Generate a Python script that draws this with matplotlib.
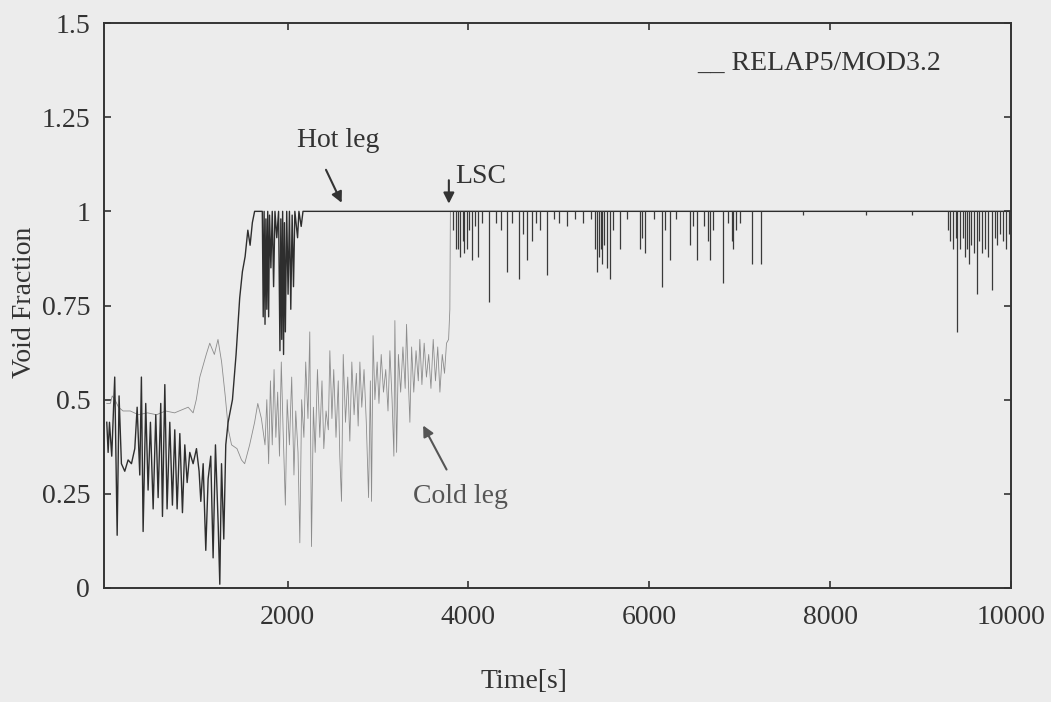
import matplotlib
matplotlib.use("Agg")
import matplotlib.pyplot as plt

plt.rcParams['font.family'] = ['Liberation Serif', 'DejaVu Serif']
plt.rcParams['font.size'] = 20

# Hot leg void fraction (time [s], value)
hot_t = [0, 15, 30, 55, 88, 115, 136, 162, 199, 236, 273, 310, 336, 365, 383, 402,
         431, 457, 483, 513, 542, 568, 597, 616, 642, 667, 697, 726, 752, 778, 808,
         837, 863, 889, 918, 955, 992, 1021, 1040, 1066, 1095, 1121, 1150, 1176,
         1202, 1232, 1250, 1269, 1294, 1316, 1342, 1390, 1430, 1470, 1500, 1530,
         1560, 1585, 1610, 1635, 1720,
         1730, 1740, 1750, 1760, 1770, 1780, 1790, 1800, 1815, 1830, 1845, 1860,
         1880, 1900, 1915, 1925, 1935, 1945, 1955, 1965, 1975, 1990, 2005, 2020,
         2035, 2050, 2065, 2080, 2110, 2125, 2150, 2170, 10000]
hot_v = [0.44, 0.36, 0.44, 0.35, 0.56, 0.14, 0.51, 0.33, 0.31, 0.34, 0.33, 0.37, 0.48,
         0.30, 0.56, 0.15, 0.49, 0.26, 0.44, 0.21, 0.46, 0.24, 0.49, 0.19, 0.54, 0.21,
         0.44, 0.22, 0.42, 0.21, 0.41, 0.20, 0.38, 0.28, 0.36, 0.33, 0.37, 0.31, 0.23,
         0.33, 0.10, 0.29, 0.35, 0.08, 0.38, 0.17, 0.01, 0.33, 0.13, 0.38, 0.44, 0.50,
         0.62, 0.77, 0.84, 0.88, 0.95, 0.91, 0.97, 1.0, 1.0,
         0.72, 1.0, 0.70, 0.98, 0.74, 1.0, 0.72, 0.99, 0.85, 1.0, 0.80, 1.0,
         0.93, 1.0, 0.63, 0.98, 0.66, 1.0, 0.62, 0.97, 0.68, 1.0, 0.78, 1.0,
         0.74, 0.99, 0.80, 1.0, 0.93, 1.0, 0.96, 1.0, 1.0]

# Cold leg void fraction (time [s], value)
cold_t = [0, 40, 60, 90, 130, 180, 260, 350, 450, 550, 650, 750, 850, 900, 955, 990,
          1029, 1100, 1139, 1190, 1230, 1270, 1310, 1345, 1380, 1440, 1490, 1525,
          1580, 1635, 1670, 1710, 1750,
          1770, 1790, 1810, 1830, 1850, 1870, 1890, 1910, 1930, 1950, 1975, 1995,
          2020, 2045, 2070, 2090, 2115, 2135, 2155, 2180, 2200, 2225, 2245, 2264,
          2285, 2305, 2330, 2356, 2380, 2400, 2425, 2450, 2467, 2490, 2510, 2535,
          2560, 2577, 2596, 2615, 2640, 2665, 2688, 2710, 2735, 2760, 2780, 2799,
          2820, 2845, 2870, 2895, 2915, 2928, 2945, 2965, 2990, 3010, 3035, 3060,
          3085, 3110, 3131, 3155, 3175, 3186, 3205, 3225, 3250, 3275, 3300, 3315,
          3335, 3352, 3371, 3395, 3420, 3445, 3462, 3485, 3510, 3535, 3560, 3585,
          3610, 3635, 3660, 3684, 3710, 3735, 3757, 3780, 3794, 3800, 10000]
cold_v = [0.49, 0.49, 0.51, 0.50, 0.48, 0.47, 0.47, 0.46, 0.465, 0.46, 0.47, 0.465,
          0.475, 0.48, 0.465, 0.50, 0.56, 0.62, 0.65, 0.62, 0.66, 0.60, 0.51, 0.42,
          0.38, 0.37, 0.34, 0.33, 0.38, 0.44, 0.49, 0.45, 0.38,
          0.50, 0.33, 0.55, 0.38, 0.58, 0.40, 0.52, 0.35, 0.60, 0.42, 0.22, 0.50,
          0.38, 0.56, 0.30, 0.47, 0.36, 0.12, 0.50, 0.40, 0.60, 0.45, 0.68, 0.11,
          0.48, 0.36, 0.58, 0.40, 0.55, 0.37, 0.47, 0.42, 0.63, 0.45, 0.58, 0.40,
          0.55, 0.35, 0.23, 0.62, 0.44, 0.56, 0.39, 0.60, 0.46, 0.57, 0.43, 0.60,
          0.48, 0.58, 0.44, 0.24, 0.55, 0.23, 0.67, 0.50, 0.60, 0.49, 0.62, 0.52,
          0.58, 0.47, 0.63, 0.50, 0.35, 0.71, 0.36, 0.62, 0.52, 0.64, 0.53, 0.70,
          0.55, 0.44, 0.64, 0.52, 0.63, 0.55, 0.66, 0.54, 0.65, 0.56, 0.62, 0.53,
          0.66, 0.55, 0.64, 0.52, 0.62, 0.57, 0.65, 0.66, 0.74, 1.0, 1.0]

# Dips below 1 after loop seal clearing (time [s], lowest value)
dip_t = [3830, 3860, 3886, 3910, 3935, 3955, 3979, 4005, 4034, 4070, 4108, 4150, 4229,
         4300, 4360, 4421, 4480, 4561, 4600, 4642, 4698, 4750, 4790, 4871, 4950, 5000,
         5085, 5180, 5269, 5350, 5400, 5417, 5440, 5460, 5480, 5500, 5528, 5564, 5600,
         5675, 5750, 5896, 5920, 5951, 6050, 6136, 6170, 6228, 6300, 6449, 6480, 6523,
         6600, 6650, 6670, 6700, 6811, 6870, 6910, 6928, 6960, 7000, 7131, 7231, 7700,
         8400, 8900, 9300, 9330, 9360, 9390, 9406, 9440, 9470, 9490, 9510, 9540, 9560,
         9590, 9620, 9650, 9680, 9712, 9740, 9786, 9820, 9850, 9878, 9910, 9940, 9975]
dip_v = [0.95, 0.90, 0.90, 0.88, 0.92, 0.89, 0.90, 0.95, 0.87, 0.96, 0.88, 0.97, 0.76,
         0.97, 0.95, 0.84, 0.97, 0.82, 0.94, 0.87, 0.92, 0.97, 0.95, 0.83, 0.98, 0.97,
         0.96, 0.98, 0.97, 0.98, 0.90, 0.84, 0.88, 0.90, 0.86, 0.91, 0.85, 0.82, 0.95,
         0.90, 0.98, 0.90, 0.93, 0.89, 0.98, 0.80, 0.95, 0.87, 0.98, 0.91, 0.96, 0.87,
         0.96, 0.92, 0.87, 0.95, 0.81, 0.97, 0.92, 0.90, 0.95, 0.97, 0.86, 0.86, 0.99,
         0.99, 0.99, 0.95, 0.92, 0.90, 0.93, 0.68, 0.90, 0.93, 0.88, 0.90, 0.86, 0.91,
         0.89, 0.78, 0.92, 0.89, 0.90, 0.88, 0.79, 0.93, 0.91, 0.94, 0.92, 0.90, 0.94]

x_ticks = [2000, 4000, 6000, 8000, 10000]
y_ticks = [0, 0.25, 0.5, 0.75, 1, 1.25, 1.5]
y_tick_labels = ['0', '0.25', '0.5', '0.75', '1', '1.25', '1.5']

bg = '#ececec'
ink = '#333333'

fig = plt.figure(figsize=(10.51, 7.02), dpi=100, facecolor=bg)
ax = fig.add_axes([0.099, 0.1624, 0.863, 0.8048], facecolor=bg)

ax.plot(cold_t, cold_v, color='#8c8c8c', lw=0.6)
ax.plot(hot_t, hot_v, color='#2e2e2e', lw=1.0)
ax.vlines(dip_t, dip_v, 1.0, colors='#3a3a3a', lw=0.9)

ax.set_xlim(-30, 10000)
ax.set_ylim(0, 1.5)
ax.set_xticks(x_ticks)
ax.set_yticks(y_ticks)
ax.set_yticklabels(y_tick_labels)
ax.tick_params(direction='in', length=5, width=1.2, colors=ink,
               top=True, right=True, labelsize=20)
ax.tick_params(axis='x', pad=12)
ax.tick_params(axis='y', pad=10)
for s in ax.spines.values():
    s.set_color(ink)
    s.set_linewidth(1.4)

ax.text(2102, 1.171, 'Hot leg', color=ink, va='baseline')
ax.annotate('', xy=(2611, 1.016), xytext=(2411, 1.117),
            arrowprops=dict(arrowstyle='-|>', color=ink, lw=1.5, mutation_scale=16))
ax.text(3850, 1.075, 'LSC', color=ink, va='baseline')
ax.annotate('', xy=(3783, 1.013), xytext=(3783, 1.09),
            arrowprops=dict(arrowstyle='-|>', color=ink, lw=1.5, mutation_scale=16))
ax.text(3385, 0.226, 'Cold leg', color='#555555', va='baseline')
ax.annotate('', xy=(3484, 0.438), xytext=(3772, 0.308),
            arrowprops=dict(arrowstyle='-|>', color='#555555', lw=1.5, mutation_scale=16))
ax.text(6527, 1.375, '__ RELAP5/MOD3.2', color=ink, va='baseline')

fig.text(25 / 1051, 1 - 302 / 702, 'Void Fraction', rotation=90,
         ha='center', va='center', color=ink, fontsize=20)
fig.text(524 / 1051, 1 - 682 / 702, 'Time[s]', ha='center', va='center',
         color=ink, fontsize=20)

fig.savefig('out.png', dpi=100, facecolor=bg)
